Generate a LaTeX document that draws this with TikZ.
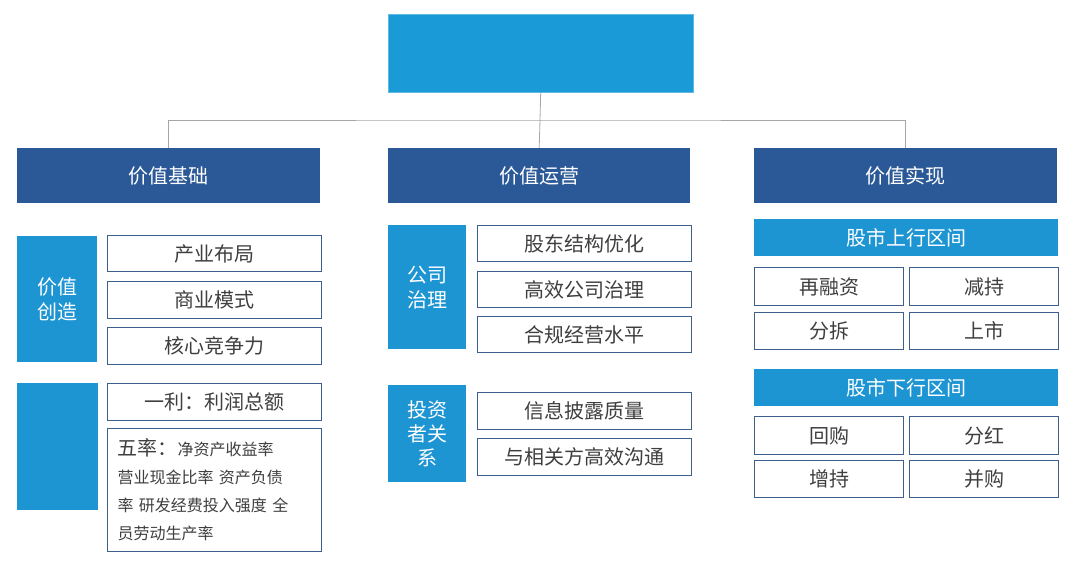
\documentclass[tikz,border=0pt]{standalone}
\usepackage{fontspec}
\setmainfont{Noto Sans CJK SC}
\definecolor{topblue}{HTML}{1A9BD8}
\definecolor{headblue}{HTML}{2B5997}
\definecolor{sideblue}{HTML}{1E95D3}
\definecolor{edgeblue}{HTML}{3D5F8C}
\definecolor{txtgray}{HTML}{3F3F3F}
\tikzset{
  head/.style={fill=headblue, text=white, anchor=north west, inner sep=0pt, font=\fontsize{20}{24}\selectfont},
  side/.style={fill=sideblue, text=white, anchor=north west, inner sep=0pt, align=center, font=\fontsize{20}{25}\selectfont},
  item/.style={draw=edgeblue, line width=1.2pt, fill=white, text=txtgray, anchor=north west, inner sep=0pt, font=\fontsize{20}{24}\selectfont},
  link/.style={draw=gray!70, line width=0.8pt}
}
\begin{document}
\begin{tikzpicture}[x=1pt, y=-1pt]
            \useasboundingbox (0,0) rectangle (1080,564);
            % root
            \node[fill=topblue, draw=topblue!70, anchor=north west, minimum width=305pt, minimum height=78pt] (root) at (388,14) {};
    
            % column heads
            \node[head, minimum width=303pt, minimum height=55pt] (base) at (17,148) {价值基础};
            \node[head, minimum width=302pt, minimum height=55pt] (oper) at (388,148) {价值运营};
            \node[head, minimum width=303pt, minimum height=55pt] (real) at (754,148) {价值实现};

            \coordinate (fork) at (540,120);
            \draw[link] (root.south) -- (fork);
            \draw[link] (base.north) |- (fork) -| (real.north);
            \draw[link] (fork) -- (oper.north);

            % value basis
            \node[side, minimum width=80pt, minimum height=126pt] (create) at (17,236) {价值\\创造};
            \node[item, minimum width=214pt, minimum height=36pt] (layout) at (107,235) {产业布局};
            \node[item, minimum width=214pt, minimum height=37pt] (model) at (107,281) {商业模式};
            \node[item, minimum width=214pt, minimum height=37pt] (core) at (107,327) {核心竞争力};
            \node[side, minimum width=81pt, minimum height=127pt] (measure) at (17,383) {};
            \node[item, minimum width=214pt, minimum height=37pt] (profit) at (107,383) {一利：利润总额};
            \node[item, minimum width=214pt, minimum height=123pt, align=left, text width=206pt, font=\fontsize{16}{28}\selectfont] (rates) at (107,428)
                {\hspace*{6pt}{\fontsize{20}{24}\selectfont 五率：}净资产收益率\\\hspace*{6pt}营业现金比率 资产负债\\\hspace*{6pt}率 研发经费投入强度 全\\\hspace*{6pt}员劳动生产率};

            % value operation
            \node[side, minimum width=78pt, minimum height=124pt] (gov) at (388,225) {公司\\治理};
            \node[item, minimum width=214pt, minimum height=36pt] (holder) at (477,225) {股东结构优化};
            \node[item, minimum width=214pt, minimum height=36pt] (effic) at (477,271) {高效公司治理};
            \node[item, minimum width=214pt, minimum height=36pt] (comply) at (477,316) {合规经营水平};
            \node[side, minimum width=78pt, minimum height=97pt, font=\fontsize{20}{24}\selectfont] (invest) at (388,385) {投资\\者关\\系};
            \node[item, minimum width=214pt, minimum height=37pt] (disc) at (477,392) {信息披露质量};
            \node[item, minimum width=214pt, minimum height=37pt] (comm) at (477,438) {与相关方高效沟通};

            % value realisation
            \node[side, minimum width=304pt, minimum height=37pt] (up) at (754,219) {股市上行区间};
            \node[item, minimum width=149pt, minimum height=38pt] (refin) at (754,267) {再融资};
            \node[item, minimum width=149pt, minimum height=38pt] (reduce) at (909,267) {减持};
            \node[item, minimum width=149pt, minimum height=37pt] (split) at (754,312) {分拆};
            \node[item, minimum width=149pt, minimum height=37pt] (list) at (909,312) {上市};
            \node[side, minimum width=304pt, minimum height=37pt] (down) at (754,369) {股市下行区间};
            \node[item, minimum width=149pt, minimum height=38pt] (buy) at (754,416) {回购};
            \node[item, minimum width=149pt, minimum height=38pt] (divid) at (909,416) {分红};
            \node[item, minimum width=149pt, minimum height=37pt] (hold) at (754,460) {增持};
            \node[item, minimum width=149pt, minimum height=37pt] (merge) at (909,460) {并购};
        \end{tikzpicture}
\end{document}
